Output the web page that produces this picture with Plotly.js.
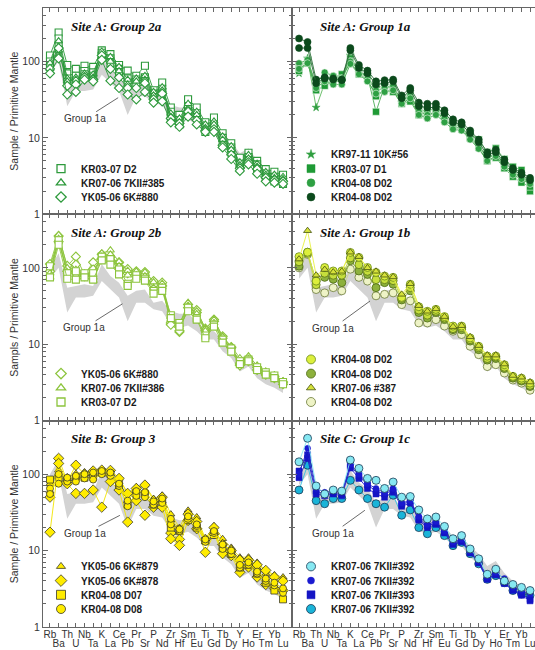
<!DOCTYPE html>
<html><head><meta charset="utf-8">
<script src="https://cdn.plot.ly/plotly-3.0.1.min.js"></script>
<style>html,body{margin:0;padding:0;background:#fff}#chart{width:535px;height:650px}</style>
</head><body><div id="chart"></div>
<script>
const elements = ['Rb','Ba','Th','U','Nb','Ta','K','La','Ce','Pb','Pr','Sr','P','Nd','Zr','Hf','Sm','Eu','Ti','Gd','Tb','Dy','Y','Ho','Er','Tm','Yb','Lu'];
const yTickVals = [1,10,100];
const yTickText = ['1','10','100'];
const yMinorVals = [2,3,4,5,6,7,8,9,20,30,40,50,60,70,80,90,200,300,400,500];

// Group 1a field (grey envelope)
const group1aHigh = [100,155,55,58,61,58,112,78,64,43,50,52,35,37,27,25,25,20,15.6,14.8,11.5,9,6.3,7.3,5.1,4,3.4,3.0];
const group1aLow  = [72,100,26,41,41,43,67,52,41,20,35,35,28.6,27,18,16.4,17.6,14.8,11.5,11.5,8.1,6.6,4.4,5.1,3.6,3.0,2.7,2.3];

// Site A: Group 2a
const g2a_KR0307D2_a = [120,240,90,80,88,85,140,125,90,76,65,88,42,53,25,20,32,25,16,18.5,11.5,8.5,5.5,6.4,5,3.9,3.6,3.3];
const g2a_KR0307D2_b = [100,200,70,65,75,72,130,110,80,60,58,62,38,44,22,17,26,21,14,15,10,7.5,4.6,5.6,4.5,3.4,3.1,2.7];
const g2a_KR0307D2_c = [85,160,60,55,68,65,120,95,70,52,52,55,34,40,19,15,22,19,12,13.5,8.5,6.5,4.0,5.0,3.7,3.0,2.7,2.5];
const g2a_KR0706_385_a = [95,185,60,62,70,68,135,115,85,58,60,65,40,46,21,18,28,22,15,16.5,10.5,7.8,4.8,6.0,4.6,3.6,3.3,3.1];
const g2a_KR0706_385_b = [80,140,55,58,65,62,118,100,75,50,55,58,36,42,19,16,24,20,13.5,15,9.5,7.0,4.4,5.4,4.2,3.3,3.0,2.9];
const g2a_YK0506_880_a = [80,150,48,50,62,58,120,80,62,45,45,52,32,38,18,15.5,22,17,12.5,13,8,6,4.0,4.8,3.9,3.0,2.8,2.7];
const g2a_YK0506_880_b = [70,110,37,40,58,55,105,56,45,37,32,40,29,30,16,14,19,15,12,12,7.5,5.3,3.7,4.5,3.4,2.7,2.6,2.5];

// Site A: Group 1a
const g1a_KR9711_56 = [70,110,25,52,55,55,120,72,62,45,48,45,29,33,24,20,22,18,15,14,10,8,5.5,6.0,4.4,3.5,3.1,2.6];
const g1a_KR0307D1_a = [90,100,48,58,62,68,110,75,65,22,48,45,32,36,24,22,25,20,15.5,15,11.5,9.5,6.5,7.3,5.3,4.2,3.8,2.0];
const g1a_KR0307D1_b = [75,95,42,48,55,60,100,68,58,35,42,40,28,30,20,19,22,17,14,13,10,7.5,5.0,5.5,4.0,3.1,2.6,2.3];
const g1a_KR0408D02g_a = [95,105,50,72,65,60,100,78,60,42,45,48,30,36,22,20,22,18,14,13.5,10.5,8,5.5,6.2,4.5,3.5,3.1,2.7];
const g1a_KR0408D02g_b = [80,95,45,55,50,50,93,68,55,38,40,42,28,33,20,18,20,16,13,12.5,9.5,7.2,5.0,5.8,4.2,3.3,2.9,2.5];
const g1a_KR0408D02d_a = [200,180,58,62,60,58,150,90,76,55,57,58,36,45,29,28,28,23,17.5,16,12.5,9.5,6.5,7.0,5.2,4.0,3.5,3.0];
const g1a_KR0408D02d_b = [150,150,52,60,58,57,140,82,70,50,52,55,33,42,26,25,25,21,16,15,11.5,8.8,6.0,6.5,4.8,3.8,3.3,2.8];

// Site A: Group 2b
const g2b_YK0506_880_a = [112,260,106,140,82,118,150,137,118,96,90,88,67,64,19,14.5,33,28,16,21,12.7,9.2,5.5,6.5,5,4.2,3.8,3.2];
const g2b_YK0506_880_b = [90,220,90,110,78,95,130,125,100,85,82,80,60,58,18,15,30,26,15,20,12,9,5.3,6,4.6,4,3.6,3.0];
const g2b_KR0706_386_a = [85,270,100,95,82,75,155,170,120,92,90,88,65,62,23,18,35,27,16,21,12.5,9.4,6.6,7,5.3,4.4,3.9,3.3];
const g2b_KR0706_386_b = [75,240,88,80,75,68,140,150,105,80,80,78,55,56,21,17,32,25,15,19,11.5,8.8,6,6.5,4.9,4.1,3.7,3.1];
const g2b_KR0307D2_a = [105,230,85,90,85,85,140,130,95,62,80,72,50,55,24,19,30,22,13,18,11.5,8.8,6.0,6.3,5,4.3,3.9,3.2];
const g2b_KR0307D2_b = [75,200,72,70,75,70,125,110,82,58,72,68,46,50,22,17,27,21,12,17,10.5,8,5.5,6,4.6,4,3.6,3.0];

// Site A: Group 1b
const g1b_KR0408D02_light = [140,160,67,101,91,91,159,137,101,87,78,75,41,61,31,27,28.6,23,17.3,17.3,12.1,9.4,7,7,5.4,3.8,3.6,3.1];
const g1b_KR0408D02_olive = [105,160,67,75,71,64,124,91,82,55,64,61,38,50,26,22,26,21,15.5,15.5,11,8.5,6.2,6.5,4.8,3.6,3.3,2.8];
const g1b_KR0706_387 = [130,306,80,95,88,90,160,140,100,90,80,76,45,62,32,27,29,23,17,17.5,12.5,9.6,7.2,7.2,5.5,3.9,3.7,3.2];
const g1b_KR0408D02_mid = [120,155,60,85,80,80,135,110,90,70,70,68,40,55,28,24,27,22,16,16.5,11.5,9,6.5,6.8,5,3.7,3.4,2.9];
const g1b_KR0408D02_pale = [100,150,52,47,55,50,96,75,67,43,45,47,33,37,19,19,21,17.3,14.8,13.4,9.4,7.3,5.1,5.4,4.2,3.4,3.1,2.5];

// Site B: Group 3
const g3_YK0506_879_a = [75,113,92,102,107,107,113,113,88,56,68,72,48,53,30,20,33.6,27.5,14.3,21,14.3,11,8.2,8.2,7,5.5,4.8,4.5];
const g3_YK0506_879_b = [60,100,85,90,95,100,100,100,80,45,60,60,42,45,25,17,30,25,13,19,12.5,10,7,7.5,6,5,4.5,4.2];
const g3_YK0506_878_a = [50,161,80,131,100,110,113,112,88,56,65,72,45,50,17,14,30,24,14,20,12,10,7.5,7.5,6.5,5.5,4.5,4.0];
const g3_YK0506_878_b = [17.4,138,75,56,56,62,37,80,62,23.6,45,29,37,37,14.3,11.7,24.8,19.3,9.5,16.6,9.1,8.6,5.2,6.1,4.5,3.6,3.2,3.0];
const g3_KR0408D07 = [85,90,85,90,90,92,105,100,72,40,55,55,40,44,20,19,25,20,13.5,16,11,9,6,6.5,5,3.8,3.0,2.3];
const g3_KR0408D08_a = [65,75,80,80,88,85,100,95,70,38,52,50,40,42,22,18,26,21,13,17,10.5,9,6,6.5,5,4,3.5,2.8];
const g3_KR0408D08_b = [55,100,90,95,100,105,110,105,75,45,60,58,44,48,26,19,28,22,14,18,12,10,6.5,7,5.3,4.3,3.8,3.2];

// Site C: Group 1c
const g1c_KR0706_392_light = [145,295,70,55,62,60,153,119,88,83,65,79,50,51,34,26,27.5,20.7,14.3,15.7,10.5,7.8,4.9,5.7,4.0,3.6,3.3,3.0];
const g1c_KR0706_392_blue = [100,218,65,58,60,58,135,100,75,65,57,65,42,45,28,22,24,18,13,14,9.8,7.3,4.5,5.2,4.3,3.3,3.0,2.7];
const g1c_KR0706_393_a = [110,180,60,55,58,55,130,95,72,60,55,62,40,44,26,21,23,17.5,12.5,13.5,9.5,7.0,4.2,5.0,3.8,3.1,2.7,2.3];
const g1c_KR0706_393_b = [90,160,55,52,55,52,120,88,65,55,50,58,38,42,25,20,22,17,12,13,9.3,6.9,4.3,4.8,3.7,3.0,2.6,2.2];
const g1c_KR0706_392_cyan = [62,131,45,41,48,48,83,62,48,41,37,53,29,34,20,16.6,20,15.7,11.6,12.8,9.1,6.7,4.2,4.7,3.8,3.0,2.7,2.6];

// tick label rows: even positions on the upper row, odd positions on the lower row
const upperRowText = elements.map((e, i) => (i % 2 ? '' : e));
const lowerRowElements = elements.filter((e, i) => i % 2 === 1);

const traces = [];
function field(ax) {
  traces.push({type:'scatter', x:elements, y:group1aLow, xaxis:'x'+ax, yaxis:'y'+ax, mode:'lines',
    line:{width:0, color:'#d2d2d2'}, showlegend:false, hoverinfo:'skip'});
  traces.push({type:'scatter', x:elements, y:group1aHigh, xaxis:'x'+ax, yaxis:'y'+ax, mode:'lines',
    fill:'tonexty', fillcolor:'#d3d3d3', line:{width:0, color:'#d3d3d3'}, showlegend:false, hoverinfo:'skip'});
}
function series(ax, ys, sym, lineColor, fill, edge, size, ew) {
  traces.push({type:'scatter', x:elements, y:ys, xaxis:'x'+ax, yaxis:'y'+ax, mode:'lines+markers',
    line:{width:0.9, color:lineColor},
    marker:{symbol:sym, size:size, color:fill, line:{color:edge, width:ew}},
    showlegend:false, cliponaxis:true});
}
const legendDefs = {};
let legendCount = 0;
// one legend box per entry so that rows can sit 14 px apart as in the reference
function legendItem(ax, panelTop, row, nRows, xpx, name, sym, fill, edge, size, ew) {
  legendCount++;
  const key = legendCount === 1 ? 'legend' : 'legend' + legendCount;
  const ypx = panelTop + 189 - 14.2 * (nRows - 1 - row);
  legendDefs[key] = {x:(xpx - 20 - 43) / 492, xanchor:'left', y:(627 - ypx) / 619, yanchor:'middle',
    bgcolor:'rgba(0,0,0,0)', borderwidth:0, itemwidth:30, traceorder:'normal',
    font:{family:'Liberation Sans, Arial, sans-serif', size:10, color:'#1a1a1a', weight:'bold'}};
  traces.push({type:'scatter', x:[null], y:[null], xaxis:'x'+ax, yaxis:'y'+ax, mode:'markers', name:name,
    legend:key, marker:{symbol:sym, size:size, color:fill, line:{color:edge, width:ew}}, showlegend:true});
}
const ax1 = '', ax2 = '2', ax3 = '3', ax4 = '4', ax5 = '5', ax6 = '6';
const LX = 61, RX = 311;

// Panel 2a
const c2a = '#2e9a3c';
field(ax1);
[g2a_KR0307D2_a, g2a_KR0307D2_b, g2a_KR0307D2_c].forEach(s => series(ax1, s, 'square', c2a, '#fff', c2a, 7, 1.1));
[g2a_KR0706_385_a, g2a_KR0706_385_b].forEach(s => series(ax1, s, 'triangle-up', c2a, '#fff', c2a, 7, 1.1));
[g2a_YK0506_880_a, g2a_YK0506_880_b].forEach(s => series(ax1, s, 'diamond', c2a, '#fff', c2a, 7, 1.1));
legendItem(ax1, 8, 0, 3, LX, 'KR03-07 D2', 'square', '#fff', c2a, 8, 1.3);
legendItem(ax1, 8, 1, 3, LX, 'KR07-06 7KII#385', 'triangle-up', '#fff', c2a, 8, 1.3);
legendItem(ax1, 8, 2, 3, LX, 'YK05-06 6K#880', 'diamond', '#fff', c2a, 8, 1.3);

// Panel 1a
series(ax2, g1a_KR9711_56, 'star', '#5cb85c', '#2f9e3f', '#2f9e3f', 6, 0.5);
[g1a_KR0307D1_a, g1a_KR0307D1_b].forEach(s => series(ax2, s, 'square', '#4aab55', '#1f9a35', '#e8f5e8', 7, 0.6));
[g1a_KR0408D02g_a, g1a_KR0408D02g_b].forEach(s => series(ax2, s, 'circle', '#4aab55', '#2ea043', '#e8f5e8', 7, 0.6));
[g1a_KR0408D02d_a, g1a_KR0408D02d_b].forEach(s => series(ax2, s, 'circle', '#2d6e3a', '#0c4a1c', '#0c4a1c', 7, 0.6));
legendItem(ax2, 8, 0, 4, RX, 'KR97-11 10K#56', 'star', '#2f9e3f', '#2f9e3f', 7, 0.5);
legendItem(ax2, 8, 1, 4, RX, 'KR03-07 D1', 'square', '#1f9a35', '#1f9a35', 8, 0.5);
legendItem(ax2, 8, 2, 4, RX, 'KR04-08 D02', 'circle', '#2ea043', '#2ea043', 8, 0.5);
legendItem(ax2, 8, 3, 4, RX, 'KR04-08 D02 ', 'circle', '#0c4a1c', '#0c4a1c', 8, 0.5);

// Panel 2b
const c2b = '#8cc43c';
field(ax3);
[g2b_YK0506_880_a, g2b_YK0506_880_b].forEach(s => series(ax3, s, 'diamond', c2b, '#fff', c2b, 7, 1.1));
[g2b_KR0706_386_a, g2b_KR0706_386_b].forEach(s => series(ax3, s, 'triangle-up', c2b, '#fff', c2b, 7, 1.1));
[g2b_KR0307D2_a, g2b_KR0307D2_b].forEach(s => series(ax3, s, 'square', c2b, '#fff', c2b, 7, 1.1));
legendItem(ax3, 213, 0, 3, LX, 'YK05-06 6K#880', 'diamond', '#fff', c2b, 8, 1.3);
legendItem(ax3, 213, 1, 3, LX, 'KR07-06 7KII#386', 'triangle-up', '#fff', c2b, 8, 1.3);
legendItem(ax3, 213, 2, 3, LX, 'KR03-07 D2', 'square', '#fff', c2b, 8, 1.3);

// Panel 1b
field(ax4);
series(ax4, g1b_KR0408D02_pale, 'circle', '#c9d48a', '#eef3c6', '#6b7a3a', 8, 0.8);
series(ax4, g1b_KR0408D02_olive, 'circle', '#8db13c', '#8db13c', '#4c6a14', 8, 0.8);
series(ax4, g1b_KR0408D02_mid, 'circle', '#b9d13c', '#c6df3c', '#5a7416', 8, 0.8);
series(ax4, g1b_KR0408D02_light, 'circle', '#dbe94a', '#dcef3c', '#6a8a1a', 8, 0.8);
series(ax4, g1b_KR0706_387, 'triangle-up', '#e8f040', '#d6e23a', '#44520e', 7, 0.8);
legendItem(ax4, 213, 0, 4, RX, 'KR04-08 D02', 'circle', '#dcef3c', '#6a8a1a', 9, 0.8);
legendItem(ax4, 213, 1, 4, RX, 'KR04-08 D02 ', 'circle', '#8db13c', '#4c6a14', 9, 0.8);
legendItem(ax4, 213, 2, 4, RX, 'KR07-06 #387', 'triangle-up', '#d6e23a', '#44520e', 8, 0.8);
legendItem(ax4, 213, 3, 4, RX, 'KR04-08 D02  ', 'circle', '#eef3c6', '#6b7a3a', 9, 0.8);

// Panel 3
const c3 = '#f2e400', f3 = '#ffec00', e3 = '#3a3a2a';
field(ax5);
[g3_YK0506_879_a, g3_YK0506_879_b].forEach(s => series(ax5, s, 'triangle-up', c3, f3, e3, 7, 0.8));
[g3_YK0506_878_a, g3_YK0506_878_b].forEach(s => series(ax5, s, 'diamond', c3, f3, e3, 8, 0.8));
series(ax5, g3_KR0408D07, 'square', c3, f3, e3, 7, 0.8);
[g3_KR0408D08_a, g3_KR0408D08_b].forEach(s => series(ax5, s, 'circle', c3, f3, e3, 7, 0.8));
legendItem(ax5, 420, 0, 4, LX, 'YK05-06 6K#879', 'triangle-up', f3, e3, 8, 0.8);
legendItem(ax5, 420, 1, 4, LX, 'YK05-06 6K#878', 'diamond', f3, e3, 9, 0.8);
legendItem(ax5, 420, 2, 4, LX, 'KR04-08 D07', 'square', f3, e3, 9, 0.8);
legendItem(ax5, 420, 3, 4, LX, 'KR04-08 D08', 'circle', f3, e3, 9, 0.8);

// Panel 1c
field(ax6);
series(ax6, g1c_KR0706_392_cyan, 'circle', '#33c0e0', '#1ab4d8', '#1c3a55', 8, 0.8);
series(ax6, g1c_KR0706_393_b, 'square', '#2020c8', '#1414c4', '#1414c4', 6, 0.5);
series(ax6, g1c_KR0706_393_a, 'square', '#2020c8', '#1414c4', '#1414c4', 6, 0.5);
series(ax6, g1c_KR0706_392_blue, 'circle', '#2020c8', '#1a1ad0', '#1a1ad0', 6, 0.5);
series(ax6, g1c_KR0706_392_light, 'circle', '#86e8f2', '#86e8f2', '#1c3a55', 8, 0.8);
legendItem(ax6, 420, 0, 4, RX, 'KR07-06 7KII#392', 'circle', '#86e8f2', '#1c3a55', 9, 0.8);
legendItem(ax6, 420, 1, 4, RX, 'KR07-06 7KII#392 ', 'circle', '#1a1ad0', '#1a1ad0', 7, 0.5);
legendItem(ax6, 420, 2, 4, RX, 'KR07-06 7KII#393', 'square', '#1414c4', '#1414c4', 8, 0.5);
legendItem(ax6, 420, 3, 4, RX, 'KR07-06 7KII#392  ', 'circle', '#1ab4d8', '#1c3a55', 9, 0.8);

// carriers for the lower row of element labels
traces.push({type:'scatter', x:elements, y:elements.map(() => null), xaxis:'x7', yaxis:'y5', mode:'markers', showlegend:false, hoverinfo:'skip'});
traces.push({type:'scatter', x:elements, y:elements.map(() => null), xaxis:'x8', yaxis:'y6', mode:'markers', showlegend:false, hoverinfo:'skip'});

const leftW = 249 / 492;
const lineC = '#666';
function xAxis(dom, anchor, labels, rng) {
  return {domain:dom, anchor:anchor, type:'category', range:rng, tickmode:'array', tickvals:elements, ticktext:upperRowText,
    showticklabels:labels, ticks:'inside', ticklen:4, tickcolor:lineC, showline:true, linecolor:lineC, linewidth:1,
    mirror:'ticks', showgrid:false, zeroline:false, tickangle:0,
    tickfont:{size:10, color:'#333'}, ticklabelstandoff:-2};
}
function lowerRow(over, anchor, rng) {
  return {overlaying:over, anchor:anchor, type:'category', range:rng, tickmode:'array', tickvals:lowerRowElements,
    ticktext:lowerRowElements, ticks:'', showline:false, showgrid:false, zeroline:false, tickangle:0, side:'bottom',
    tickfont:{size:10, color:'#333'}, ticklabelstandoff:9};
}
function yAxis(dom, anchor, left, title) {
  const a = {domain:dom, anchor:anchor, type:'log', range:[0, 2.7], tickmode:'array', tickvals:yTickVals, ticktext:yTickText,
    showticklabels:left, ticks:'inside', ticklen:5, tickcolor:lineC, showline:true, linecolor:lineC, linewidth:1,
    mirror:left ? 'ticks' : false, showgrid:false, zeroline:false,
    minor:{tickmode:'array', tickvals:yMinorVals, ticks:'inside', ticklen:3, tickcolor:lineC, showgrid:false},
    tickfont:{size:10.5, color:'#333'}};
  if (title) a.title = {text:title, font:{size:10.5, color:'#333'}, standoff:1};
  return a;
}
const rL = [-0.81, 28.04], rR = [-0.82, 27.58];
const dT = [2/3, 1], dM = [1/3, 2/3], dB = [0, 1/3];
const dL = [0, leftW], dR = [leftW, 1];

function title(ax, txt) {
  return {text:txt, xref:'x' + ax + ' domain', yref:'y' + ax + ' domain', x:0.105, y:1 - 18 / 206,
    xanchor:'left', yanchor:'middle', showarrow:false,
    font:{family:'Liberation Serif, serif', size:13, color:'#111', weight:'bold', style:'italic'}};
}
function grp(ax, xi, yv, axp, ayp) {
  return {text:'Group 1a', xref:'x' + ax, yref:'y' + ax, x:xi, y:Math.log10(yv), ax:axp, ay:ayp,
    showarrow:true, arrowhead:0, arrowwidth:0.8, arrowcolor:'#444', standoff:0, startstandoff:0,
    font:{size:10, color:'#333'}};
}

const layout = Object.assign({
  width:535, height:650, margin:{l:43, r:0, t:8, b:23},
  paper_bgcolor:'#fff', plot_bgcolor:'#fff',
  font:{family:'Liberation Sans, Arial, sans-serif', color:'#333'},
  showlegend:true,
  xaxis:xAxis(dL, 'y', false, rL), yaxis:yAxis(dT, 'x', true, 'Sample / Primitive Mantle'),
  xaxis2:xAxis(dR, 'y2', false, rR), yaxis2:yAxis(dT, 'x2', false),
  xaxis3:xAxis(dL, 'y3', false, rL), yaxis3:yAxis(dM, 'x3', true, 'Sampls / Primitive Mantle'),
  xaxis4:xAxis(dR, 'y4', false, rR), yaxis4:yAxis(dM, 'x4', false),
  xaxis5:xAxis(dL, 'y5', true, rL), yaxis5:yAxis(dB, 'x5', true, 'Sample / Primitive Mantle'),
  xaxis6:xAxis(dR, 'y6', true, rR), yaxis6:yAxis(dB, 'x6', false),
  xaxis7:lowerRow('x5', 'y5', rL), xaxis8:lowerRow('x6', 'y6', rR),
  annotations:[
    title('', 'Site A: Group 2a'), title('2', 'Site A: Group 1a'),
    title('3', 'Site A: Group 2b'), title('4', 'Site A: Group 1b'),
    title('5', 'Site B: Group 3'), title('6', 'Site C: Group 1c'),
    grp('', 7.9, 33.6, -33, 21), grp('3', 8.4, 33.8, -38, 24), grp('4', 8.3, 36.8, -37, 27),
    grp('5', 8.1, 28.9, -35, 18), grp('6', 7.7, 33.7, -32, 23)
  ]
}, legendDefs);
Plotly.newPlot('chart', traces, layout, {staticPlot:true, displayModeBar:false});
</script></body></html>
